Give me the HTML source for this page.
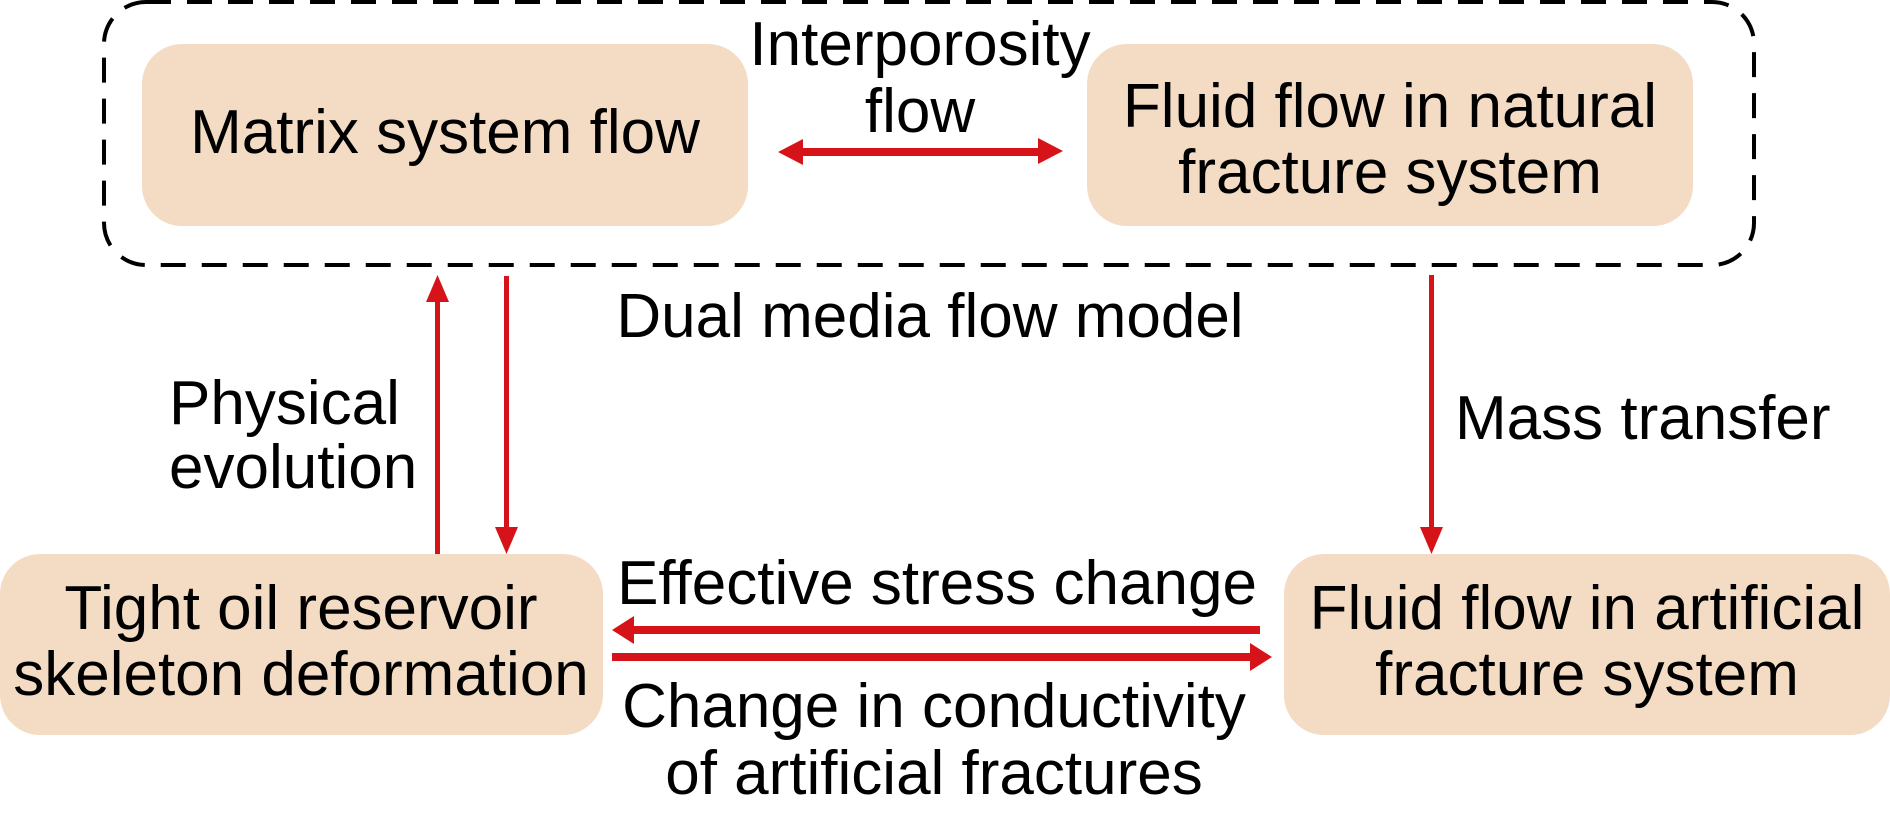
<!DOCTYPE html>
<html><head><meta charset="utf-8"><style>
html,body{margin:0;padding:0;background:#fff}
svg{display:block}
text{font-family:"Liberation Sans",Arial,sans-serif;font-size:62px;fill:#000}
</style></head><body>
<svg width="1890" height="814" viewBox="0 0 1890 814" xmlns="http://www.w3.org/2000/svg">
<rect x="104" y="2" width="1650" height="263" rx="42" ry="42" fill="none" stroke="#000" stroke-width="4" stroke-dasharray="25 16"/>
<rect x="142" y="44" width="606" height="182" rx="40" fill="#f4dcc4"/>
<rect x="1087" y="44" width="606" height="182" rx="40" fill="#f4dcc4"/>
<rect x="0" y="554" width="603" height="181" rx="40" fill="#f4dcc4"/>
<rect x="1284" y="554" width="606" height="181" rx="40" fill="#f4dcc4"/>
<g fill="#d7131a" stroke="none">
<rect x="800" y="148" width="240" height="8"/>
<polygon points="778,152 803,139 803,165"/>
<polygon points="1063,151 1038,138 1038,164"/>
<rect x="435" y="300" width="5" height="254"/>
<polygon points="437.5,275 426,302 449,302"/>
<rect x="504" y="276" width="5" height="255"/>
<polygon points="506.5,554 495,527 518,527"/>
<rect x="1429" y="275" width="5" height="255"/>
<polygon points="1431.5,554 1420,527 1443,527"/>
<rect x="632" y="626" width="628" height="8"/>
<polygon points="612,630 634,616 634,644"/>
<rect x="612" y="653" width="640" height="8"/>
<polygon points="1272,657 1250,643 1250,671"/>
</g>
<g text-anchor="middle">
<text x="445" y="153">Matrix system flow</text>
<text x="1390" y="127">Fluid flow in natural</text>
<text x="1390" y="193">fracture system</text>
<text x="920" y="65">Interporosity</text>
<text x="920" y="132">flow</text>
<text x="930" y="337">Dual media flow model</text>
<text x="301" y="629">Tight oil reservoir</text>
<text x="301" y="695">skeleton deformation</text>
<text x="1587" y="629">Fluid flow in artificial</text>
<text x="1587" y="695">fracture system</text>
<text x="937" y="604">Effective stress change</text>
<text x="934" y="727">Change in conductivity</text>
<text x="934" y="794">of artificial fractures</text>
</g>
<text x="169" y="424">Physical</text>
<text x="169" y="488">evolution</text>
<text x="1455" y="439">Mass transfer</text>
</svg>
</body></html>
